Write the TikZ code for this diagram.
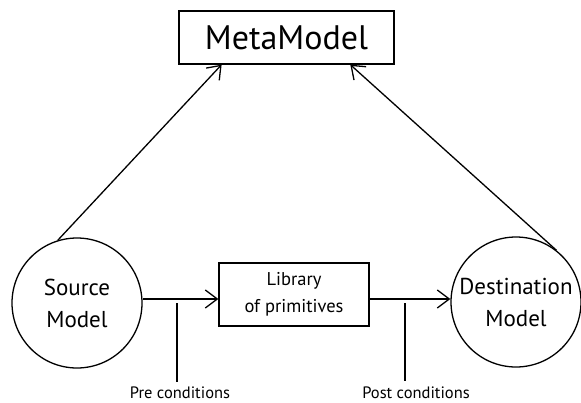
\documentclass[tikz,border=0pt]{standalone}
\usepackage{fontspec}
\setmainfont{PT Sans}
\usetikzlibrary{arrows.meta,calc}
\tikzset{
  link/.style={line width=1.3pt},
  flow/.style={link,-{Straight Barb[length=12pt,width=18pt,line width=1.3pt]}},
  modelnode/.style={circle,draw,line width=1.3pt,minimum size=130pt,inner sep=0pt,align=center,font=\fontsize{23}{33}\selectfont},
  boxnode/.style={rectangle,draw,line width=1.3pt,inner sep=0pt,align=center},
  condlabel/.style={font=\fontsize{16.5}{18}\selectfont,inner sep=0pt}
}
\begin{document}
\begin{tikzpicture}[x=1pt,y=-1pt]
  \useasboundingbox (0,0) rectangle (581,402);
  % top box
  \node[boxnode,minimum width=215pt,minimum height=53pt,font=\fontsize{34}{36}\selectfont] (meta) at (286.5,37.5) {MetaModel};
  % models
  \node[modelnode] (src) at (77,303) {Source\\[-1pt]Model};
  \node[modelnode] (dst) at (516,302) {Destination\\[-1pt]Model};
  % transformation library
  \node[boxnode,minimum width=150pt,minimum height=63pt,font=\fontsize{18.5}{27}\selectfont] (lib) at (294,294.5) {Library\\of primitives};
  % conformance links
  \coordinate (mL) at ($(meta.south west)!0.2!(meta.south east)$);
  \coordinate (mR) at ($(meta.south west)!0.795!(meta.south east)$);
  \draw[flow] (src.107) -- (mL);
  \draw[flow] (dst.52) -- (mR);
  % transformation flow
  \coordinate (lin) at (lib.west |- 0,299);
  \coordinate (lout) at (lib.east |- 0,299);
  \coordinate (dstin) at (dst.west |- 0,299);
  \draw[flow] (src.east |- 0,299) -- (lin);
  \draw[flow] (lout) -- (dstin);
  % conditions
  \node[condlabel] (pre) at (180,393) {Pre conditions};
  \node[condlabel] (post) at (416,393) {Post conditions};
  \coordinate (preTop) at (177,303);
  \coordinate (preBot) at (177,382);
  \coordinate (postTop) at (405,303);
  \coordinate (postBot) at (405,381);
  \draw[link] (preTop) -- (preBot);
  \draw[link] (postTop) -- (postBot);
\end{tikzpicture}
\end{document}
